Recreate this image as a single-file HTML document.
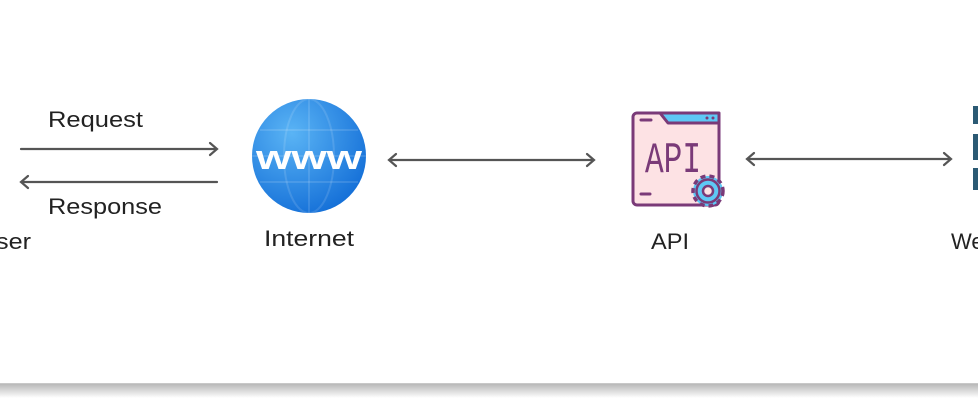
<!DOCTYPE html>
<html><head><meta charset="utf-8"><style>
html,body{margin:0;padding:0;background:#fff;width:978px;height:400px;overflow:hidden}
svg text{font-family:"Liberation Sans",sans-serif;fill:#222}
</style></head><body>
<svg width="978" height="400" viewBox="0 0 978 400" xmlns="http://www.w3.org/2000/svg">
<defs>
<linearGradient id="sh" x1="0" y1="0" x2="0" y2="1">
<stop offset="0" stop-color="#b8b8b8"/><stop offset="1" stop-color="#ffffff"/>
</linearGradient>
<radialGradient id="globe" cx="0.35" cy="0.3" r="0.75">
<stop offset="0" stop-color="#5ab4f5"/><stop offset="1" stop-color="#1570d8"/>
</radialGradient>
</defs>
<rect x="0" y="0" width="978" height="383" fill="#fff"/>
<rect x="0" y="383" width="978" height="1" fill="#c8c8c8"/>
<rect x="0" y="384" width="978" height="14" fill="url(#sh)"/>

<g stroke="#555" stroke-width="2.2" fill="none" stroke-linecap="round">
<line x1="21" y1="149" x2="216" y2="149"/><polyline points="210,143 217,149 210,155"/>
<line x1="217" y1="182" x2="22" y2="182"/><polyline points="28,176 21,182 28,188"/>
<line x1="390" y1="160" x2="593" y2="160"/><polyline points="396,154 389,160 396,166"/><polyline points="587,154 594,160 587,166"/>
<line x1="748" y1="159" x2="950" y2="159"/><polyline points="754,153 747,159 754,165"/><polyline points="944,153 951,159 944,165"/>
</g>
<text x="48" y="127" font-size="22" textLength="95" lengthAdjust="spacingAndGlyphs">Request</text>
<text x="48" y="214" font-size="22" textLength="114" lengthAdjust="spacingAndGlyphs">Response</text>
<text x="-4" y="249" font-size="22" textLength="35" lengthAdjust="spacingAndGlyphs">ser</text>

<circle cx="309" cy="156" r="57" fill="url(#globe)"/>
<g stroke="#ffffff" stroke-opacity="0.12" fill="none" stroke-width="2">
<ellipse cx="309" cy="156" rx="25" ry="57"/><line x1="252" y1="156" x2="366" y2="156"/>
<line x1="260" y1="130" x2="358" y2="130"/><line x1="260" y1="182" x2="358" y2="182"/><line x1="309" y1="99" x2="309" y2="213"/>
</g>
<text x="309" y="169" font-size="34" font-weight="bold" text-anchor="middle" style="fill:#fff" textLength="106" lengthAdjust="spacingAndGlyphs">www</text>
<text x="309" y="246" font-size="22" text-anchor="middle" textLength="90" lengthAdjust="spacingAndGlyphs">Internet</text>

<g stroke="#7a3a78" stroke-width="3" stroke-linecap="round" stroke-linejoin="round">
<rect x="633" y="113" width="86" height="92" rx="4" fill="#fde2e4"/>
<path d="M660 113 L668 123 L719 123 L719 113 Z" fill="#5ec8f5"/>
<line x1="641" y1="120" x2="651" y2="120"/>
<line x1="641" y1="194" x2="650" y2="194"/>
</g>
<circle cx="707" cy="118" r="1.5" fill="#7a3a78"/><circle cx="713" cy="118" r="1.5" fill="#7a3a78"/>
<text x="645" y="172" font-size="44" style="fill:#7a3a78;font-family:'Liberation Mono',monospace" textLength="56" lengthAdjust="spacingAndGlyphs">API</text>
<g transform="translate(708,191)">
<circle r="15" fill="#5ec8f5" stroke="#7a3a78" stroke-width="3.5" stroke-dasharray="5 4"/>
<circle r="11.5" fill="#5ec8f5" stroke="#7a3a78" stroke-width="2.5"/>
<circle r="5" fill="#fde2e4" stroke="#7a3a78" stroke-width="2.5"/>
</g>
<text x="670" y="249" font-size="22" text-anchor="middle" textLength="38" lengthAdjust="spacingAndGlyphs">API</text>

<rect x="973" y="106" width="6" height="18" fill="#2b5a74"/>
<rect x="973" y="134" width="6" height="26" fill="#2b5a74"/>
<rect x="973" y="168" width="6" height="22" fill="#2b5a74"/>
<text x="951" y="249" font-size="22">We</text>
</svg>
</body></html>
